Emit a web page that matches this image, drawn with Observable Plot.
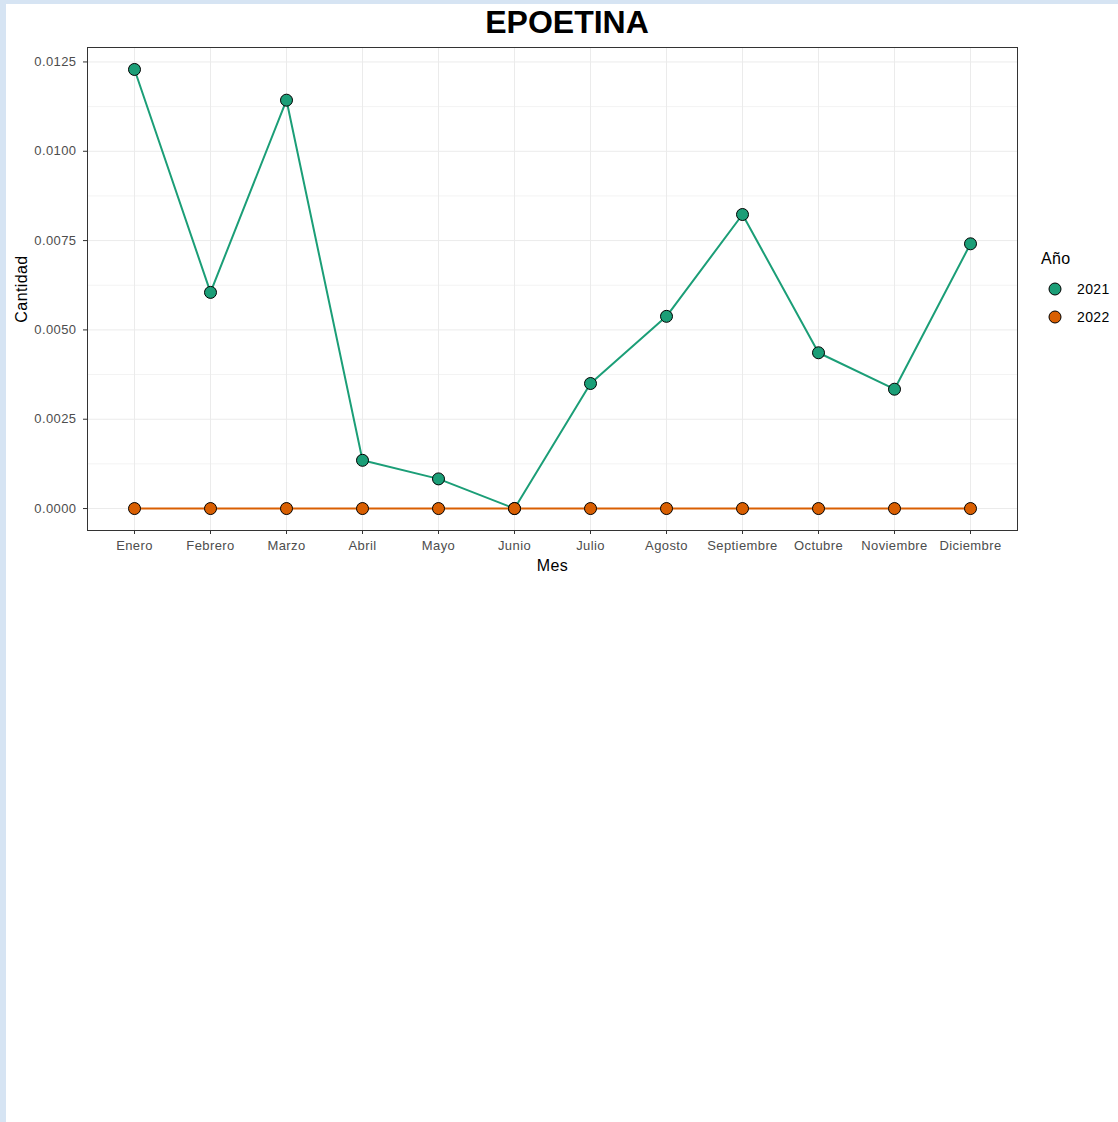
<!DOCTYPE html>
<html>
<head>
<meta charset="utf-8">
<script src="https://cdn.jsdelivr.net/npm/d3@7"></script>
<script src="https://cdn.jsdelivr.net/npm/@observablehq/plot@0.6"></script>
<style>
  html, body { margin: 0; padding: 0; }
  body { width: 1118px; height: 1122px; background: #d6e4f3; position: relative; overflow: hidden; font-family: "Liberation Sans", Arial, sans-serif; }
  #sheet { position: absolute; left: 6px; top: 4px; right: 0; bottom: 0; background: #ffffff; }
  #chart { position: absolute; left: 0; top: 0; }
  #title { position: absolute; left: 0; width: 1134px; top: 4px; text-align: center; font-weight: bold; font-size: 32px; color: #000; }
  #legend { position: absolute; left: 1041px; top: 250px; font-size: 16px; letter-spacing: 0.4px; color: #000; }
  .item { position: absolute; left: 0; white-space: nowrap; font-size: 14px; letter-spacing: 0.4px; color: #000; }
  .item svg { position: absolute; left: 6px; top: 0; }
  .item span { position: absolute; left: 36px; top: 0; }
</style>
</head>
<body>
<div id="sheet"></div>
<div id="chart"></div>
<div id="title">EPOETINA</div>
<div id="legend"></div>
<script>
const months = ["Enero","Febrero","Marzo","Abril","Mayo","Junio","Julio","Agosto","Septiembre","Octubre","Noviembre","Diciembre"];
const years = ["2021", "2022"];
const values2021 = [0.01229, 0.00605, 0.01143, 0.00135, 0.00083, 0, 0.0035, 0.00538, 0.00823, 0.00436, 0.00334, 0.00741];
const values2022 = [0, 0, 0, 0, 0, 0, 0, 0, 0, 0, 0, 0];
const colors = ["#1b9e77", "#d95f02"];
const yMajorTicks = [0, 0.0025, 0.005, 0.0075, 0.01, 0.0125];
const yMinorTicks = [0.00125, 0.00375, 0.00625, 0.00875, 0.01125];

const data = [];
months.forEach((m, i) => data.push({mes: m, cantidad: values2021[i], year: years[0]}));
months.forEach((m, i) => data.push({mes: m, cantidad: values2022[i], year: years[1]}));

const [ymin, ymax] = d3.extent(data, d => d.cantidad);
const pad = (ymax - ymin) * 0.05;

const chart = Plot.plot({
  width: 1118,
  height: 600,
  marginLeft: 87,
  marginRight: 101,
  marginTop: 47,
  marginBottom: 70,
  style: {background: "transparent", fontFamily: "Liberation Sans, Arial, sans-serif", fontSize: "13px", color: "#4d4d4d", letterSpacing: "0.4px"},
  x: {type: "point", domain: months, padding: 0.6, label: null},
  y: {domain: [ymin - pad, ymax + pad], label: null},
  color: {domain: years, range: colors},
  marks: [
    Plot.gridY(yMinorTicks, {stroke: "#f3f3f3", strokeOpacity: 1, strokeWidth: 1}),
    Plot.gridY(yMajorTicks, {stroke: "#ebebeb", strokeOpacity: 1, strokeWidth: 1}),
    Plot.gridX(months, {stroke: "#ebebeb", strokeOpacity: 1, strokeWidth: 1}),
    Plot.line(data, {x: "mes", y: "cantidad", z: "year", stroke: "year", strokeWidth: 2}),
    Plot.dot(data, {x: "mes", y: "cantidad", fill: "year", stroke: "#000", strokeWidth: 1, r: 6}),
    Plot.frame({stroke: "#333333", strokeWidth: 1}),
    Plot.axisY(yMajorTicks, {tickFormat: d => d.toFixed(4), tickSize: 4, tickPadding: 7, stroke: "#333333", fill: "#4d4d4d", fontSize: 13, label: null}),
    Plot.axisX(months, {tickSize: 4, tickPadding: 6, stroke: "#333333", fill: "#4d4d4d", fontSize: 13, label: null}),
    Plot.text(["Mes"], {frameAnchor: "bottom", dy: 40, text: d => d, fill: "#000", fontSize: 16}),
    Plot.text(["Cantidad"], {frameAnchor: "left", textAnchor: "middle", dx: -66, rotate: -90, text: d => d, fill: "#000", fontSize: 16})
  ]
});
document.getElementById("chart").appendChild(chart);

const legend = document.getElementById("legend");
const t = document.createElement("div");
t.textContent = "Año";
t.style.position = "absolute"; t.style.left = "0px"; t.style.top = "0px";
legend.appendChild(t);
years.forEach((y, i) => {
  const it = document.createElement("div");
  it.className = "item";
  it.style.top = (31 + i * 28) + "px";
  it.innerHTML = `<svg width="16" height="16"><circle cx="8" cy="8" r="6" fill="${colors[i]}" stroke="#000" stroke-width="1"/></svg><span>${y}</span>`;
  legend.appendChild(it);
});
</script>
</body>
</html>
